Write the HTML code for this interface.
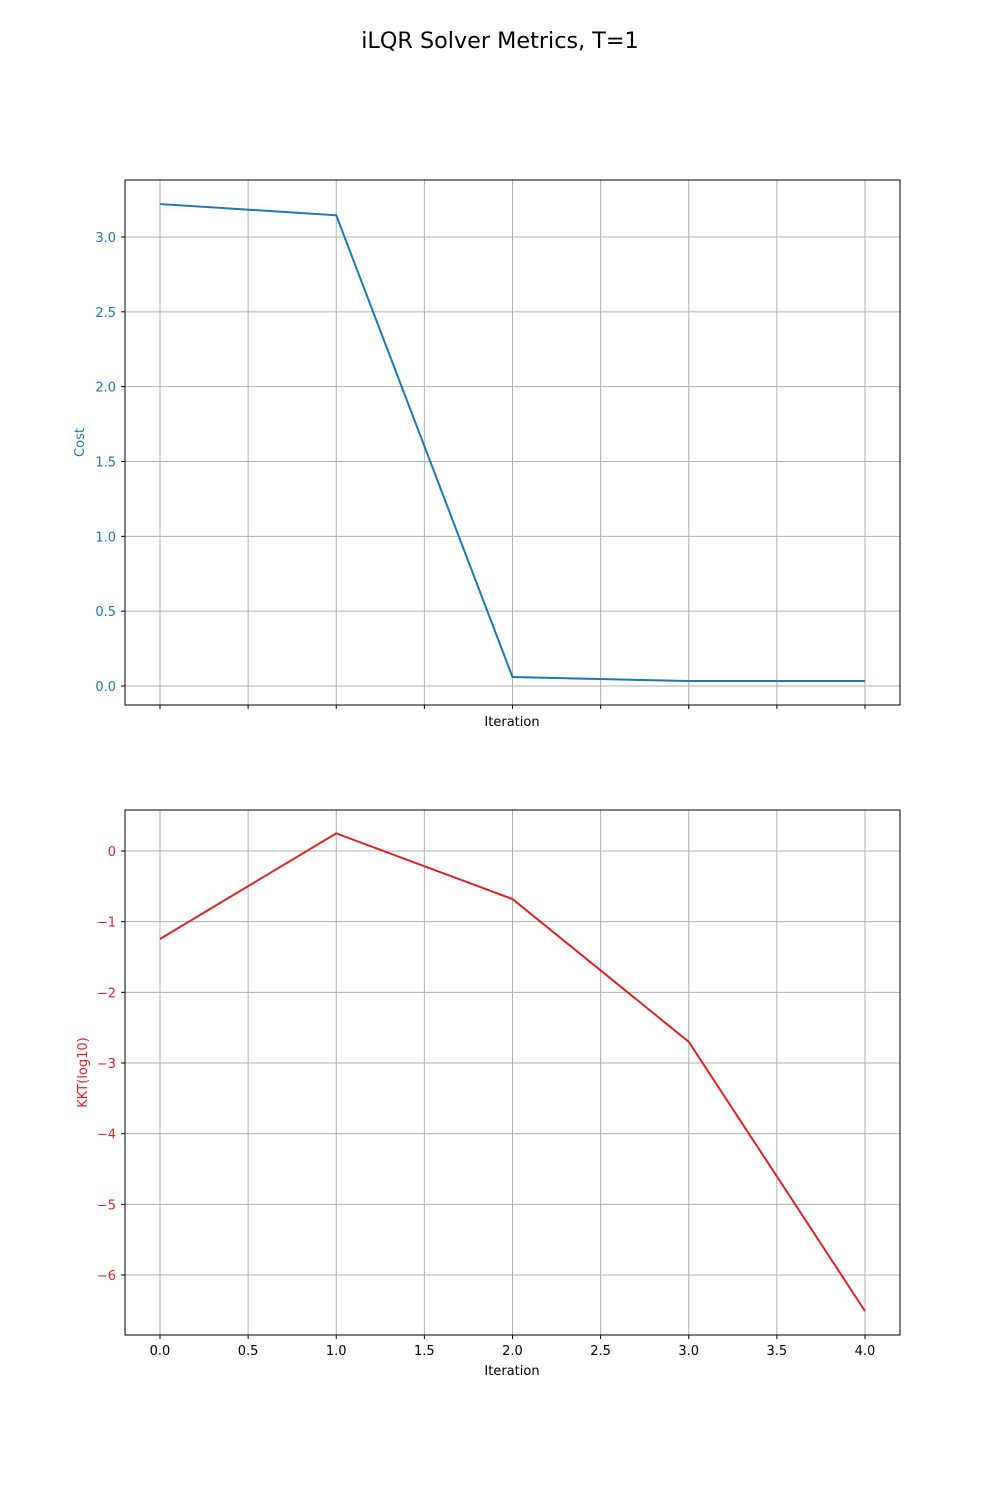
<!DOCTYPE html>
<html><head><meta charset="utf-8"><style>
body{margin:0;background:#fff;}
svg text{font-family:"DejaVu Sans","Liberation Sans",sans-serif;}
</style></head><body>
<svg id="chart" width="1000" height="1500" xmlns="http://www.w3.org/2000/svg">
<rect width="1000" height="1500" fill="#fff"/>
<text x="500" y="48" font-size="22.3" text-anchor="middle">iLQR Solver Metrics, T=1</text>
<g id="top"></g><g id="bot"></g>
</svg>
<script>
const iterations=[0,1,2,3,4];
const costValues=[3.22,3.145,0.06,0.033,0.033];
const kktValues=[-1.245,0.25,-0.68,-2.70,-6.51];
const xTicks=[0,0.5,1,1.5,2,2.5,3,3.5,4];
const costTicks=[0,0.5,1,1.5,2,2.5,3];
const kktTicks=[0,-1,-2,-3,-4,-5,-6];
const NS='http://www.w3.org/2000/svg';
function mk(p,t,a){const e=document.createElementNS(NS,t);for(const k in a)e.setAttribute(k,a[k]);p.appendChild(e);return e;}
const L=125,R=900;
const xs=v=>160+v*176.25;
function panel(g,top,bottom,y0,scale,ticks,fmt,vals,color,ylabel,showX,name){
  const ys=v=>y0-v*scale;
  for(const t of xTicks){
    const gl=mk(g,'line',{x1:xs(t),x2:xs(t),y1:top,y2:bottom,stroke:'#b0b0b0','stroke-width':1});
    
    mk(g,'line',{x1:xs(t),x2:xs(t),y1:bottom,y2:bottom+4,stroke:'#000'});
    if(showX){const tx=mk(g,'text',{x:xs(t),y:bottom+20,'font-size':13,'text-anchor':'middle'});tx.textContent=t.toFixed(1);
      }
  }
  for(const t of ticks){
    const gl=mk(g,'line',{x1:L,x2:R,y1:ys(t),y2:ys(t),stroke:'#b0b0b0','stroke-width':1});
    
    mk(g,'line',{x1:L-4,x2:L,y1:ys(t),y2:ys(t),stroke:'#000'});
    const tx=mk(g,'text',{x:L-9,y:ys(t)+5,'font-size':13,'text-anchor':'end',fill:color});tx.textContent=fmt(t);
    
  }
  const pl=mk(g,'polyline',{points:vals.map((v,i)=>xs(iterations[i])+','+ys(v)).join(' '),fill:'none',stroke:color,'stroke-width':2});
  
  const fr=mk(g,'rect',{x:L,y:top,width:R-L,height:bottom-top,fill:'none',stroke:'#000','stroke-width':1});
  
  const xl=mk(g,'text',{x:512,y:bottom+21+(showX?19:0),'font-size':13,'text-anchor':'middle'});xl.textContent='Iteration';
  
  const cy=(top+bottom)/2;
  const yl=mk(g,'text',{x:0,y:0,'font-size':13,'text-anchor':'middle',fill:color,transform:`translate(${showX?87:84},${cy}) rotate(-90)`});yl.textContent=ylabel;
  
}
panel(document.getElementById('top'),180,705,686,149.67,costTicks,t=>t.toFixed(1),costValues,'#1f77b4','Cost',false,'cost');
panel(document.getElementById('bot'),810,1335,851,70.67,kktTicks,t=>t<0?'\u2212'+(-t):String(t),kktValues,'#d62728','KKT(log10)',true,'kkt');
</script>
</body></html>
